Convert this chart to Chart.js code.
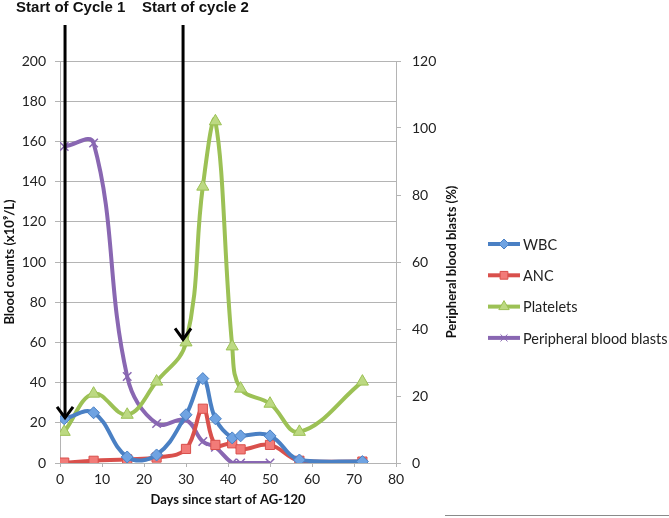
<!DOCTYPE html>
<html>
<head>
<meta charset="utf-8">
<script src="https://cdn.jsdelivr.net/npm/chart.js@4/dist/chart.umd.min.js"></script>
<style>
    body { margin: 0; background: #fff; }
    #wrap { position: relative; width: 669px; height: 518px; }
    #edge { position: absolute; left: 445px; top: 515px; width: 224px; height: 1px; background: #8a8a8a; }
</style>
</head>
<body>
<div id="wrap">
    <canvas id="chart" width="669" height="518"></canvas>
    <div id="edge"></div>
</div>
<script>
//---------
//Данные
//---------

//Дни наблюдения (WBC, ANC, тромбоциты)
const days = [1, 8, 16, 23, 30, 34, 37, 41, 43, 50, 57, 72];
//Дни наблюдения (бласты)
const blastDays = [1, 8, 16, 23, 30, 34, 37, 41, 43, 50];

//Серии
const wbc = [22, 25, 3, 4, 24, 42, 22, 12.5, 13.5, 13.5, 1.5, 0.7];
const anc = [0.2, 1.1, 1.8, 2.7, 7, 27, 9, 9.8, 6.8, 9, 1.1, 0.7];
const platelets = [15.5, 34.5, 24, 40.5, 60, 137.5, 170, 58, 37, 29.5, 15.5, 40.5];
const blasts = [94.5, 95.5, 25.8, 11.8, 12.8, 6.4, 4.7, 0, 0, 0];

//Подписи серий
const seriesNames = ["WBC", "ANC", "Platelets", "Peripheral blood blasts"];

//Стрелки начала циклов: день, значение острия (левая ось), подпись
const arrowDays = [1.2, 29.3];
const arrowTips = [22, 61];
const arrowLabels = ["Start of Cycle 1", "Start of cycle 2"];

//Деления осей
const xTicks = { min: 0, max: 80, step: 10 };
const yTicks = { min: 0, max: 200, step: 20 };
const y1Ticks = { min: 0, max: 120, step: 20 };

//---------
//Оформление
//---------

const FONT = "Lato";
const GRID = "#b4b4b4";
const COLORS = [
    { line: "#4a80c4", fill: "#6fa3e2", style: "rectRot", r: 6 },
    { line: "#d9504c", fill: "#f27b78", style: "rect", r: 6.5 },
    { line: "#9cc155", fill: "#bcd982", style: "triangle", r: 7 },
    { line: "#8967b2", fill: "#8967b2", style: "crossRot", r: 6 }
];

const toPoints = (xs, ys) => xs.map((x, i) => ({ x, y: ys[i] }));

const makeSet = (idx, data, axis) => ({
    label: seriesNames[idx],
    data,
    yAxisID: axis,
    borderColor: COLORS[idx].line,
    backgroundColor: COLORS[idx].fill,
    borderWidth: 4,
    pointStyle: COLORS[idx].style,
    pointRadius: COLORS[idx].r,
    pointBorderWidth: idx === 3 ? 1.5 : 1,
    pointBorderColor: COLORS[idx].line,
    tension: 0.4
});

//Стрелки и подписи циклов
const arrowsPlugin = {
    id: "arrows",
    afterDatasetsDraw(chart) {
        const { ctx, chartArea, scales } = chart;
        const offsets = [-49, -41];
        ctx.save();
        ctx.strokeStyle = "#000";
        ctx.lineWidth = 3;
        ctx.lineCap = "butt";
        arrowDays.forEach((d, i) => {
            const x = scales.x.getPixelForValue(d);
            const yTip = scales.y.getPixelForValue(arrowTips[i]);
            const yTop = chartArea.top - 36;
            ctx.beginPath();
            ctx.moveTo(x, yTop);
            ctx.lineTo(x, yTip - 1);
            ctx.stroke();
            ctx.beginPath();
            ctx.moveTo(x - 8, yTip - 12);
            ctx.lineTo(x, yTip - 1);
            ctx.lineTo(x + 8, yTip - 12);
            ctx.stroke();
            ctx.fillStyle = "#111";
            ctx.font = "bold 15px 'Liberation Sans'";
            ctx.textBaseline = "middle";
            ctx.textAlign = "left";
            ctx.fillText(arrowLabels[i], x + offsets[i], 8);
        });
        ctx.restore();
    }
};

//Заголовок правой оси и легенда
const extrasPlugin = {
    id: "extras",
    afterDraw(chart) {
        const { ctx, chartArea } = chart;
        ctx.save();
        //Заголовок правой оси (снизу вверх)
        ctx.translate(chartArea.right + 56, (chartArea.top + chartArea.bottom) / 2);
        ctx.rotate(-Math.PI / 2);
        ctx.font = `bold 13px ${FONT}`;
        ctx.fillStyle = "#111";
        ctx.textAlign = "center";
        ctx.textBaseline = "middle";
        ctx.fillText("Peripheral blood blasts (%)", 0, 0);
        ctx.restore();

        //Легенда
        ctx.save();
        const x0 = chartArea.right + 92;
        const y0 = chartArea.top + 183;
        chart.data.datasets.forEach((ds, i) => {
            const y = y0 + i * 31.3;
            ctx.strokeStyle = ds.borderColor;
            ctx.lineWidth = 4;
            ctx.beginPath();
            ctx.moveTo(x0, y);
            ctx.lineTo(x0 + 32, y);
            ctx.stroke();
            ctx.lineWidth = 1;
            ctx.fillStyle = ds.backgroundColor;
            ctx.strokeStyle = ds.borderColor;
            Chart.helpers.drawPoint(ctx, { pointStyle: ds.pointStyle, radius: ds.pointRadius - 1, borderWidth: 1 }, x0 + 16, y);
            ctx.fillStyle = "#222";
            ctx.font = `14.5px ${FONT}`;
            ctx.textBaseline = "middle";
            ctx.textAlign = "left";
            ctx.fillText(ds.label, x0 + 35, y + 1);
        });
        ctx.restore();
    }
};

//---------
//График
//---------

new Chart(document.getElementById("chart"), {
    type: "line",
    data: {
        datasets: [
            makeSet(0, toPoints(days, wbc), "y"),
            makeSet(1, toPoints(days, anc), "y"),
            makeSet(2, toPoints(days, platelets), "y"),
            makeSet(3, toPoints(blastDays, blasts), "y1")
        ]
    },
    options: {
        responsive: false,
        animation: false,
        layout: { padding: { top: 61, right: 193, bottom: 0, left: 0 } },
        plugins: { legend: { display: false }, tooltip: { enabled: false } },
        scales: {
            x: {
                type: "linear",
                min: xTicks.min,
                max: xTicks.max,
                ticks: { stepSize: xTicks.step, font: { family: FONT, size: 14 }, color: "#222", padding: 4 },
                grid: { display: true, drawOnChartArea: false, color: GRID, tickLength: 4 },
                border: { color: GRID, width: 1 },
                title: { display: true, text: "Days since start of AG-120", font: { family: FONT, size: 13, weight: "bold" }, color: "#111", padding: { top: 10, bottom: 10 } },
                afterFit: s => { s.height = 55; }
            },
            y: {
                position: "left",
                min: yTicks.min,
                max: yTicks.max,
                ticks: { stepSize: yTicks.step, font: { family: FONT, size: 14 }, color: "#222", padding: 9 },
                grid: { color: GRID, tickLength: 5 },
                border: { color: GRID, width: 1 },
                title: { display: true, text: "Blood counts (x10⁹/L)", font: { family: FONT, size: 13, weight: "bold" }, color: "#111", padding: { top: 2, bottom: 2 } },
                afterFit: s => { s.width = 60; }
            },
            y1: {
                position: "right",
                min: y1Ticks.min,
                max: y1Ticks.max,
                ticks: { stepSize: y1Ticks.step, font: { family: FONT, size: 14 }, color: "#222", padding: 11 },
                grid: { drawOnChartArea: false, color: GRID, tickLength: 5 },
                border: { color: GRID, width: 1 },
                afterFit: s => { s.width = 80; }
            }
        }
    },
    plugins: [arrowsPlugin, extrasPlugin]
});
</script>
</body>
</html>
